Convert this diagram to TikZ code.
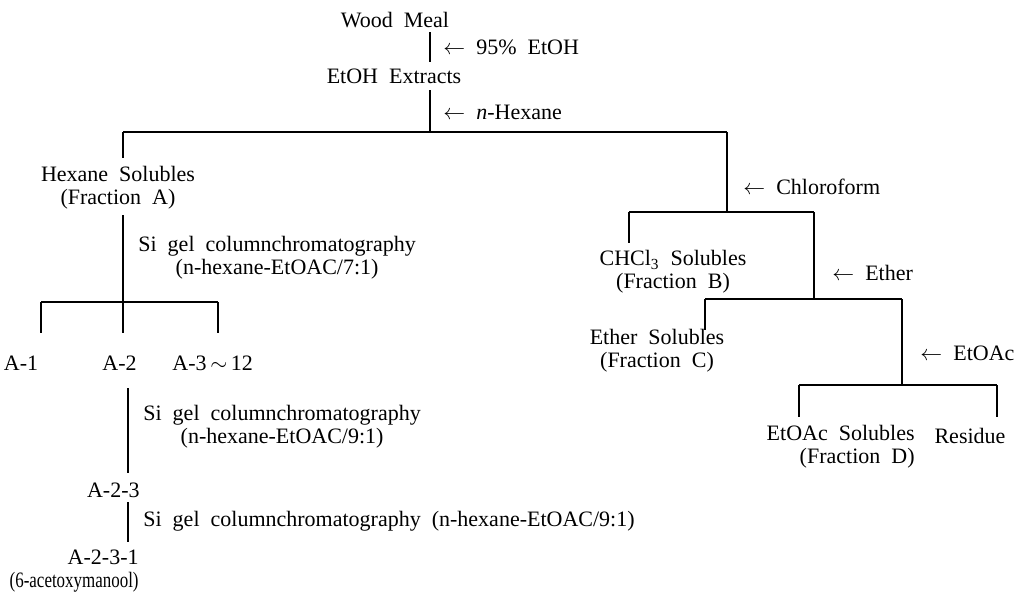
\documentclass[tikz,border=0pt]{standalone}
\usepackage{fontspec}
\setmainfont{Liberation Serif}
\protected\def\wordsp{\spaceskip=.5em\relax}
\begin{document}
\begin{tikzpicture}[x=0.5pt, y=-0.5pt,
    lbl/.style={inner sep=0pt, align=center,
      font=\fontsize{11}{11.5}\selectfont\wordsp},
    addlbl/.style={lbl, anchor=west, align=left},
    tree/.style={line width=0.6pt}]

    \useasboundingbox (0,0) rectangle (1024,596);

    % extraction
    \node[lbl] (wood) at (395,20) {Wood Meal};
    \coordinate (w0) at (430,32);
    \coordinate (w1) at (430,62);
    \draw[tree] (w0) -- (w1);
    \node[addlbl] (ethanol) at (443,47) {$\leftarrow$ 95\% EtOH};

    \node[lbl] (extr) at (394,76) {EtOH Extracts};
    \coordinate (e0) at (430,90);
    \coordinate (e1) at (430,132);
    \draw[tree] (e0) -- (e1);
    \node[addlbl] (hexane) at (443,112) {$\leftarrow$ \textit{n}-Hexane};

    % first split
    \coordinate (sA) at (123,132);
    \coordinate (sR) at (727,132);
    \draw[tree] (sA) -- (sR);
    \coordinate (sA1) at (123,158);
    \draw[tree] (sA) -- (sA1);

    % fraction A
    \node[lbl] (fracA) at (118,188) {Hexane Solubles\\(Fraction A)};
    \coordinate (fA0) at (123,215);
    \coordinate (fA1) at (123,302);
    \draw[tree] (fA0) -- (fA1);
    \node[lbl, anchor=west] (sigelA) at (138,258)
        {Si gel columnchromatography\\(n-hexane-EtOAC/7:1)};

    \coordinate (jA1) at (41,302);
    \coordinate (jA3) at (218,302);
    \draw[tree] (jA1) -- (jA3);
    \draw[tree] (jA1) -- ++(0,31);
    \draw[tree] (fA1) -- ++(0,31);
    \draw[tree] (jA3) -- ++(0,31);

    \node[lbl] (aone) at (21,363) {A-1};
    \node[lbl, anchor=east] (atwo) at (137,363) {A-2};
    \node[lbl, anchor=west] (athree) at (172,363) {A-3\,$\sim$\,12};

    % A-2 sub fractions
    \coordinate (a20) at (128,388);
    \coordinate (a21) at (128,473);
    \draw[tree] (a20) -- (a21);
    \node[lbl, anchor=west] (sigelB) at (143,427)
        {Si gel columnchromatography\\(n-hexane-EtOAC/9:1)};

    \node[lbl, anchor=east] (atwothree) at (140,490) {A-2-3};
    \coordinate (a230) at (128,502);
    \coordinate (a231) at (128,542);
    \draw[tree] (a230) -- (a231);
    \node[lbl, anchor=west] (sigelC) at (143,521)
        {Si gel columnchromatography (n-hexane-EtOAC/9:1)};

    \node[lbl, anchor=east, align=right] (final) at (139,571)
        {A-2-3-1\\\scalebox{0.77}[1]{(6-acetoxymanool)}};

    % chloroform split
    \coordinate (sB) at (727,212);
    \draw[tree] (sR) -- (sB);
    \node[addlbl] (chloro) at (743,187) {$\leftarrow$ Chloroform};
    \coordinate (jB) at (629,212);
    \coordinate (jC) at (814,212);
    \draw[tree] (jB) -- (jC);
    \draw[tree] (jB) -- ++(0,31);
    \node[lbl] (fracB) at (673,272) {CHCl\textsubscript{3} Solubles\\(Fraction B)};

    % ether split
    \coordinate (jC1) at (814,299);
    \draw[tree] (jC) -- (jC1);
    \node[addlbl] (ether) at (832,273) {$\leftarrow$ Ether};
    \coordinate (jC2) at (705,299);
    \coordinate (jD) at (902,299);
    \draw[tree] (jC2) -- (jD);
    \draw[tree] (jC2) -- ++(0,31);
    \node[lbl] (fracC) at (657,351) {Ether Solubles\\(Fraction C)};

    % ethyl acetate split
    \coordinate (jD1) at (902,385);
    \draw[tree] (jD) -- (jD1);
    \node[addlbl] (etoac) at (920,353) {$\leftarrow$ EtOAc};
    \coordinate (jD2) at (799,385);
    \coordinate (jE) at (997,385);
    \draw[tree] (jD2) -- (jE);
    \draw[tree] (jD2) -- ++(0,32);
    \draw[tree] (jE) -- ++(0,32);
    \node[lbl, anchor=east, align=right] (fracD) at (915,447)
        {EtOAc Solubles\\(Fraction D)};
    \node[lbl] (resid) at (970,436) {Residue};

\end{tikzpicture}
\end{document}
